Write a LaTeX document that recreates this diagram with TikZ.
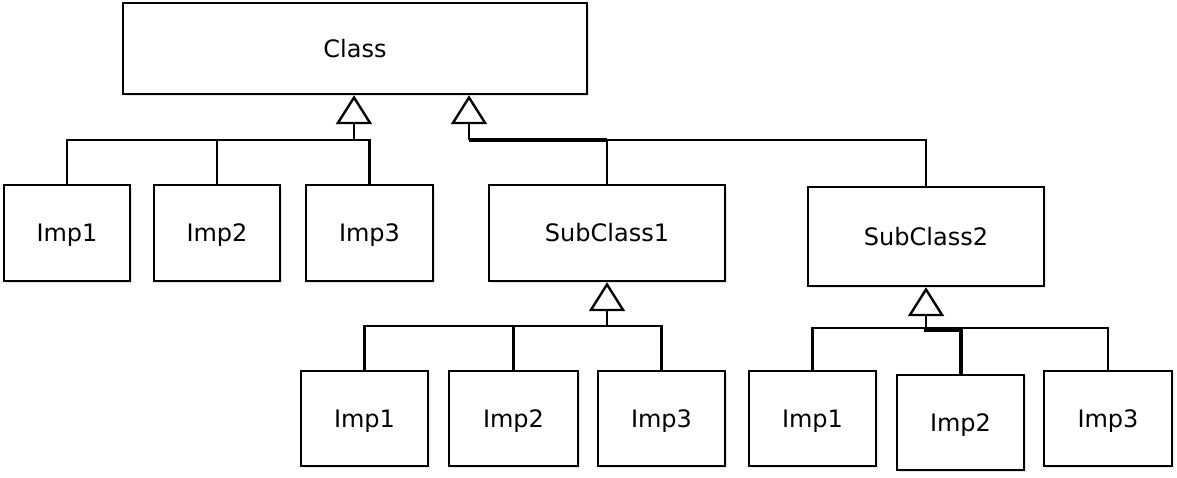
\documentclass[tikz,border=0pt]{standalone}
\usepackage{fontspec}
\setmainfont{DejaVu Sans}
\usetikzlibrary{arrows.meta,shadows}
\tikzset{
  box/.style={draw=black, line width=2.4pt, fill=white, inner sep=0pt,
    font=\fontsize{24}{28}\selectfont, text height=17.5pt, text depth=0pt,
    drop shadow={opacity=0.2, shadow xshift=1.5pt, shadow yshift=-1.5pt}},
  conn/.style={draw=black, line width=2.4pt},
  thickconn/.style={draw=black, line width=4pt},
  tri/.style={conn, -{Triangle[open, length=29pt, width=36pt, line width=2.4pt]}}
}
\begin{document}
\begin{tikzpicture}[x=1pt, y=-1pt]
\useasboundingbox (0,0) rectangle (1177,477);
% top class
\node[box, minimum width=464pt, minimum height=91pt] (Class) at (355,48.5) {Class};
% first row
\node[box, minimum width=126pt, minimum height=96pt] (ImpA1) at (67,233) {Imp1};
\node[box, minimum width=126pt, minimum height=96pt] (ImpA2) at (217,233) {Imp2};
\node[box, minimum width=127pt, minimum height=96pt] (ImpA3) at (369.5,233) {Imp3};
\node[box, minimum width=236pt, minimum height=96pt] (Sub1) at (607,233) {SubClass1};
\node[box, minimum width=236pt, minimum height=99pt] (Sub2) at (926,236.5) {SubClass2};
% second row
\node[box, minimum width=127pt, minimum height=95pt] (ImpB1) at (364.5,418.5) {Imp1};
\node[box, minimum width=129pt, minimum height=95pt] (ImpB2) at (513.5,418.5) {Imp2};
\node[box, minimum width=127pt, minimum height=95pt] (ImpB3) at (661.5,418.5) {Imp3};
\node[box, minimum width=127pt, minimum height=95pt] (ImpC1) at (812.5,418.5) {Imp1};
\node[box, minimum width=127pt, minimum height=95pt] (ImpC2) at (960.5,422.5) {Imp2};
\node[box, minimum width=128pt, minimum height=95pt] (ImpC3) at (1108,418.5) {Imp3};
% junctions
\coordinate (jA) at (354,140);
\coordinate (jB) at (469,140);
\coordinate (jC) at (607,326);
\coordinate (jD) at (926,328);
% group A
\draw[conn] (ImpA1.north) |- (ImpA3.north |- jA) -- (ImpA3.north);
\draw[conn] (ImpA2.north) -- (ImpA2.north |- jA);
\draw[tri] (jA) -- (jA |- Class.south);
% group B
\draw[tri] (jB) -- (jB |- Class.south);
\draw[conn] (Sub1.north |- jB) -| (Sub2.north);
\draw[thickconn] (jB) -- (Sub1.north |- jB);
\draw[conn] (Sub1.north |- jB) -- (Sub1.north);
% group C
\draw[conn] (ImpB1.north) |- (ImpB3.north |- jC) -- (ImpB3.north);
\draw[conn] (ImpB2.north) -- (ImpB2.north |- jC);
\draw[tri] (jC) -- (Sub1.south);
% group D
\draw[conn] (ImpC1.north) |- (ImpC3.north |- jD) -- (ImpC3.north);
\draw[tri] (jD) -- (Sub2.south);
\draw[thickconn] (jD) -- ++(0,2) -| (ImpC2.north);
\end{tikzpicture}
\end{document}
